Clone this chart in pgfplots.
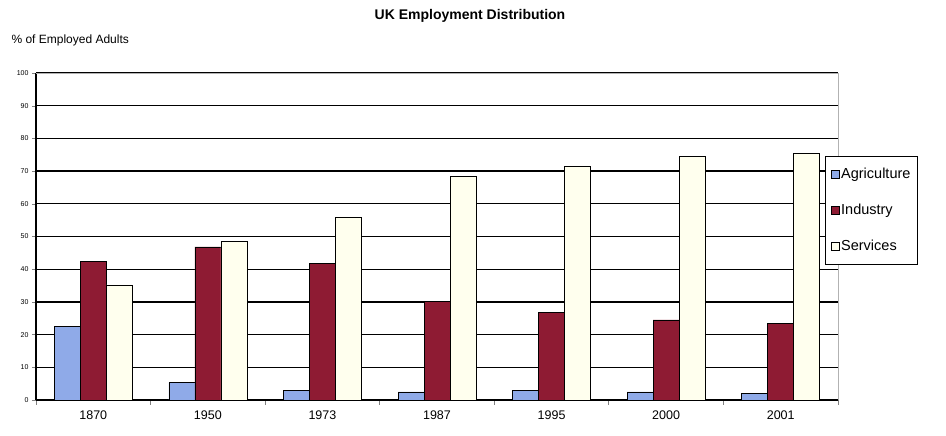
\documentclass[border=0pt]{standalone}
\usepackage{pgfplots}
\pgfplotsset{compat=1.18}
\usepackage{fontspec}
\setmainfont{Liberation Sans}
\definecolor{agri}{HTML}{8FAAE8}
\definecolor{indu}{HTML}{8E1B33}
\definecolor{serv}{HTML}{FFFFEE}
\begin{document}
\begin{tikzpicture}
\path[draw=none] (0,0) rectangle (946pt,436pt);
\node[font=\bfseries\fontsize{14}{16}\selectfont] at (470pt,420pt) {UK Employment Distribution};
\node[anchor=west,font=\fontsize{12}{14}\selectfont] at (8pt,396pt) {\% of Employed Adults};
\begin{axis}[
  at={(36pt,36pt)}, anchor=south west,
  scale only axis, width=802pt, height=327pt,
  xmin=-0.5, xmax=6.5, ymin=0, ymax=100,
  axis lines=left, axis line style={-, line width=1.2pt},
  ybar=0pt, bar width=26pt,
  xtick={0,...,6},
  xticklabels={1870,1950,1973,1987,1995,2000,2001},
  major x tick style={draw=none},
  minor xtick={-0.5,0.5,...,6.5},
  minor x tick style={line width=0.8pt},
  minor tick length=5pt,
  tick align=outside,
  ytick={0,10,...,100},
  major tick length=4pt,
  ymajorgrids, grid style={black, line width=1.3pt},
  yticklabel style={font=\fontsize{7}{8}\selectfont},
  xticklabel style={font=\fontsize{12.5}{14}\selectfont, yshift=-3pt},
  /pgf/number format/assume math mode=true,
  legend style={at={(rel axis cs:0.984,0.747)}, anchor=north west, draw=black, line width=0.8pt,
    font=\fontsize{14.5}{16}\selectfont, row sep=20pt, inner xsep=5pt, inner ysep=10pt, fill=white},
  legend cell align=left,
  legend image code/.code={\draw[#1, line width=0.6pt] (0pt,-4pt) rectangle (8pt,4pt);},
  clip=false,
]
\addplot[fill=agri, draw=black, line width=0.6pt] coordinates {(0,22.6) (1,5.3) (2,3.0) (3,2.5) (4,3.0) (5,2.5) (6,2.0)};
\addplot[fill=indu, draw=black, line width=0.6pt] coordinates {(0,42.3) (1,46.8) (2,41.8) (3,30.2) (4,26.8) (5,24.5) (6,23.4)};
\addplot[fill=serv, draw=black, line width=0.6pt] coordinates {(0,35.2) (1,48.6) (2,56.0) (3,68.3) (4,71.6) (5,74.6) (6,75.4)};
\legend{Agriculture,Industry,Services}
\draw[gray!60, line width=0.6pt] (axis cs:-0.5,100) -- (axis cs:6.5,100) -- (axis cs:6.5,0);
\end{axis}
\end{tikzpicture}
\end{document}
